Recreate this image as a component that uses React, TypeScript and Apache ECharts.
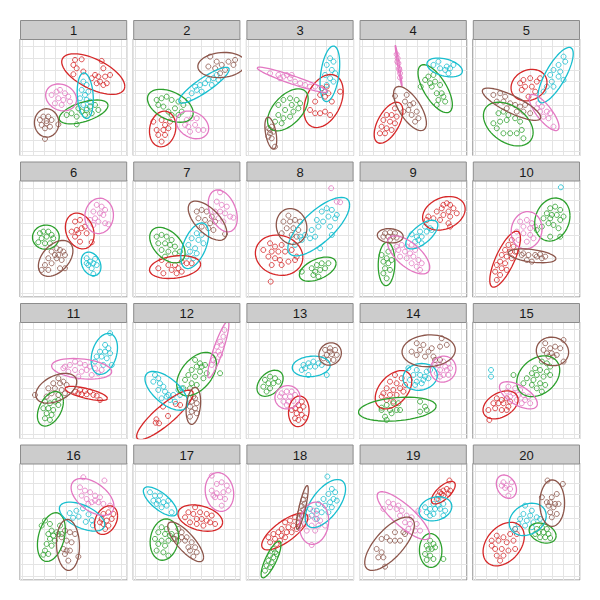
import React, { useEffect, useRef } from "react";
import * as echarts from "echarts";

const panelLabels = ["1","2","3","4","5","6","7","8","9","10","11","12","13","14","15","16","17","18","19","20"];
const groupColors = ["#d62728", "#2ca02c", "#17becf", "#e377c2", "#8c564b"];

const red: number[][][] = [
  [[3.78,7.86],[4.38,7.91],[3.63,7.43],[3.93,7.14],[3.63,6.63],[4.53,6.86],[6.19,7.77],[6.34,7.14],[5.59,6.57],[5.89,6.43],[6.5,6.43],[6.95,6.57],[6.04,6.0],[6.34,5.71],[5.74,5.86],[6.65,5.86],[5.29,6.29]],
  [[0.62,2.57],[1.37,2.71],[1.68,2.29],[0.92,1.86],[1.53,1.86],[1.98,2.0],[1.07,1.43],[1.68,1.43],[1.37,0.86],[2.13,2.57]],
  [[5.62,5.43],[6.07,5.57],[6.22,5.0],[5.47,4.86],[5.92,4.71],[7.28,5.14],[5.02,4.29],[6.53,4.29],[4.56,3.57],[5.02,3.29],[5.47,3.29],[5.92,3.43],[6.37,3.14]],
  [[2.0,3.71],[1.25,3.14],[1.7,3.14],[2.15,3.0],[0.95,2.71],[1.55,2.57],[2.0,2.43],[0.79,2.14],[1.25,2.0],[1.7,1.86],[0.64,1.57],[1.1,1.57]],
  [[3.08,5.86],[3.38,6.14],[3.99,6.29],[4.59,6.0],[4.89,6.29],[3.53,5.57],[4.14,5.57],[3.23,5.29],[3.84,4.71],[4.44,5.14]],
  [[3.78,6.13],[4.23,6.27],[3.93,5.41],[4.38,5.56],[4.68,5.7],[3.47,5.27],[4.08,5.13],[4.83,5.13],[4.23,4.41],[5.29,4.36],[3.78,4.84]],
  [[1.07,2.13],[1.37,2.84],[1.98,2.41],[2.58,2.41],[3.19,2.7],[3.64,2.56],[4.09,2.56],[2.89,2.13],[2.28,1.99],[2.73,1.7],[3.19,1.84],[1.53,1.7]],
  [[0.94,4.27],[1.39,3.99],[1.99,4.13],[0.33,3.7],[1.09,3.56],[1.69,3.56],[2.3,3.56],[2.9,3.7],[0.79,3.13],[1.39,2.99],[1.84,2.84],[2.6,2.7],[3.2,2.84],[1.09,2.41],[1.99,2.41],[3.35,3.13],[1.0,0.99]],
  [[6.38,7.56],[6.69,7.7],[6.99,7.56],[7.29,7.27],[6.23,7.27],[6.84,6.99],[7.59,6.84],[5.78,6.99],[6.38,6.7],[6.99,6.56],[5.02,6.56],[5.48,6.41],[6.08,6.27],[4.87,6.27],[6.84,5.99],[6.99,5.7]],
  [[2.33,4.56],[2.02,4.13],[2.48,3.99],[1.72,3.7],[2.18,3.56],[1.42,3.27],[1.87,3.13],[2.33,2.99],[1.27,2.7],[1.72,2.56],[0.97,2.41],[1.42,2.13],[1.87,1.99],[0.82,1.84],[1.27,1.56],[0.97,1.13],[2.63,3.56]],
  [[3.78,3.69],[4.23,3.83],[4.68,3.74],[5.14,3.69],[4.38,3.46],[4.83,3.46],[5.44,3.4],[5.74,3.34],[6.04,2.97],[4.08,3.54]],
  [[1.5,2.4],[2.65,2.63],[3.05,2.54],[1.95,1.6],[0.9,1.31],[0.84,1.02],[1.14,0.97]],
  [[3.81,2.83],[3.5,2.54],[3.96,2.4],[3.2,2.26],[3.66,2.11],[2.9,2.11],[3.35,1.83],[3.81,1.69],[3.2,1.4],[4.11,1.46],[3.5,1.26]],
  [[2.0,5.11],[2.61,4.83],[1.55,4.54],[2.15,4.4],[2.91,4.26],[1.25,3.97],[1.85,3.83],[2.46,3.97],[2.76,3.69],[0.95,3.54],[1.55,3.4],[2.15,3.4],[1.25,2.97],[1.85,2.83],[0.8,3.26]],
  [[0.97,3.11],[1.42,2.97],[1.87,3.11],[2.18,2.83],[0.66,2.69],[1.12,2.69],[1.57,2.69],[2.02,2.4],[0.82,2.26],[1.42,2.11],[1.87,2.11],[0.21,2.11],[0.3,1.26]],
  [[6.34,5.33],[6.8,5.47],[7.25,5.33],[6.19,4.9],[6.65,4.76],[7.1,4.9],[6.34,4.47],[6.8,4.33],[6.5,4.04],[6.04,4.61]],
  [[4.4,5.9],[3.79,5.47],[4.24,5.33],[4.85,5.47],[5.45,5.33],[5.91,5.19],[4.55,4.9],[5.0,4.9],[5.45,4.76],[6.21,4.47],[3.94,4.61],[4.55,4.47],[5.15,4.33],[3.49,5.04],[5.76,4.61]],
  [[3.2,5.04],[2.75,4.76],[2.3,4.61],[3.5,4.61],[3.05,4.33],[2.6,4.19],[1.99,4.04],[3.35,4.04],[1.69,3.76],[2.45,3.76],[2.9,3.76],[1.24,3.61],[1.99,3.47],[0.79,3.33],[1.39,3.19],[1.84,3.04],[0.94,2.9],[1.54,2.76],[2.3,3.33],[3.66,4.33]],
  [[6.93,8.19],[6.08,7.19],[6.38,7.33],[6.69,7.47],[6.99,7.33],[5.93,6.9],[6.38,6.9],[6.84,7.04],[5.78,6.61],[6.23,7.04]],
  [[2.63,4.04],[2.18,3.61],[0.97,3.47],[1.57,3.33],[0.51,3.04],[1.12,3.04],[1.87,2.9],[2.48,3.04],[0.82,2.33],[1.42,2.33],[2.02,2.19],[2.63,2.33],[0.97,1.76],[1.57,1.76],[1.27,1.33],[0.51,2.61],[2.78,3.61]]
];

const green: number[][][] = [
  [[3.02,3.14],[3.47,3.29],[3.93,3.0],[4.38,3.43],[4.83,3.57],[5.14,3.86],[5.59,4.0],[5.29,3.29],[4.68,3.14],[4.08,3.71],[3.93,2.34],[5.89,3.57]],
  [[0.92,4.43],[1.37,4.57],[1.83,4.71],[2.28,4.43],[2.89,4.29],[3.34,4.0],[2.58,3.71],[1.98,3.43],[1.53,3.86],[2.28,3.14],[2.89,3.14],[3.19,3.43],[1.07,4.0]],
  [[1.69,4.0],[2.15,4.43],[2.75,4.57],[3.35,4.43],[3.66,4.14],[2.9,4.0],[2.3,3.57],[3.05,3.43],[3.5,3.71],[1.69,3.14],[2.15,2.86],[2.75,3.0],[1.39,2.57],[1.99,2.43]],
  [[5.02,6.43],[5.48,6.57],[5.18,5.86],[5.63,6.0],[6.08,5.71],[5.33,5.57],[6.23,5.0],[5.78,5.0],[6.38,4.71],[5.93,4.43],[6.54,4.29],[5.78,4.0],[4.33,5.57],[4.73,6.14]],
  [[1.12,3.29],[1.57,3.43],[2.02,3.14],[2.63,2.86],[3.08,2.57],[0.66,2.43],[1.27,2.57],[1.87,2.71],[0.97,2.0],[1.57,1.57],[2.18,1.57],[2.78,1.57],[3.23,1.86],[3.38,1.14]],
  [[0.6,5.13],[0.91,5.27],[1.36,5.27],[1.66,4.99],[0.76,4.7],[1.21,4.84],[1.81,4.7],[0.45,4.36],[1.06,4.27],[1.51,4.27]],
  [[0.92,4.84],[1.37,4.99],[1.83,4.84],[2.28,4.56],[1.07,4.27],[1.68,4.27],[2.13,4.13],[2.58,3.99],[1.37,3.7],[1.98,3.56],[2.58,3.41],[3.04,3.56],[1.68,3.13]],
  [[4.71,2.13],[5.17,2.41],[5.62,2.56],[6.22,2.56],[5.02,1.84],[5.47,1.99],[5.92,2.13],[5.32,1.41],[3.81,1.84],[4.86,1.56]],
  [[1.4,3.56],[1.25,2.99],[1.7,2.84],[0.95,2.7],[1.4,2.56],[1.1,2.13],[1.55,1.99],[0.95,1.7],[1.25,1.27],[0.79,3.27]],
  [[5.8,7.27],[6.25,7.41],[6.71,7.13],[5.5,6.84],[5.95,6.7],[6.4,6.7],[7.01,6.56],[5.2,6.41],[5.8,6.41],[6.71,6.27],[5.65,5.99],[6.1,5.84],[6.56,5.56],[5.8,4.84],[6.71,4.84],[5.05,5.7],[4.59,5.41]],
  [[1.06,2.83],[1.51,2.69],[1.96,2.83],[2.27,2.97],[0.91,2.26],[1.36,2.26],[1.81,2.11],[1.21,1.83],[1.66,1.69],[1.06,1.4],[1.51,1.26],[2.27,2.54]],
  [[4.4,6.4],[4.85,6.11],[5.3,5.97],[5.0,5.83],[4.55,5.83],[4.09,5.54],[4.85,5.4],[5.45,5.26],[3.79,5.11],[4.4,4.97],[5.15,4.83],[6.66,5.26],[3.49,4.69],[4.09,4.4],[4.55,4.26],[3.34,3.97],[3.94,3.97]],
  [[0.48,4.69],[0.94,4.97],[1.39,4.83],[0.79,4.4],[1.24,4.4],[0.33,4.11],[0.94,3.97],[1.69,4.54],[0.63,3.69]],
  [[0.79,2.31],[1.25,2.54],[1.85,2.69],[2.31,2.69],[1.55,2.11],[2.15,2.11],[1.1,1.54],[0.79,2.11],[2.46,2.11],[4.27,2.83],[4.72,2.4],[4.27,1.97],[4.87,2.11],[1.25,1.26],[1.7,1.83]],
  [[5.05,6.26],[5.5,6.11],[5.8,5.83],[4.44,5.69],[4.89,5.54],[5.5,5.4],[4.14,5.26],[4.59,5.11],[5.2,4.97],[5.8,5.11],[3.69,4.83],[4.29,4.69],[4.89,4.4],[5.35,4.26],[4.14,4.26],[4.59,3.97],[5.05,3.69],[2.48,5.11],[3.38,4.4]],
  [[1.06,4.76],[1.51,4.47],[2.42,4.33],[1.66,3.9],[2.11,3.76],[1.36,3.61],[1.81,3.47],[2.27,3.61],[1.51,3.19],[1.96,3.04],[1.21,2.76],[1.66,2.61],[1.06,2.19],[1.36,1.9],[0.91,1.84],[0.76,4.33],[2.57,3.61]],
  [[1.37,4.19],[1.83,4.04],[1.07,3.76],[1.68,3.61],[2.13,3.47],[0.77,3.19],[1.37,3.04],[1.98,3.04],[2.43,3.19],[1.07,2.76],[1.68,2.61],[0.92,2.19],[1.53,2.04],[1.98,1.76],[2.28,3.61]],
  [[1.24,2.33],[1.39,2.04],[0.94,1.76],[1.24,1.61],[0.79,1.33],[1.09,1.19],[0.63,0.9],[0.94,0.76],[0.48,0.47],[1.54,1.9]],
  [[5.18,3.04],[5.48,2.76],[4.87,2.61],[5.33,2.33],[5.63,2.47],[4.72,1.9],[5.18,1.76],[4.87,1.39],[5.48,1.47],[6.38,1.47],[5.03,2.33]],
  [[4.59,4.04],[5.05,4.19],[5.5,4.04],[4.74,3.76],[5.2,3.76],[5.65,3.61],[4.89,3.33],[5.35,3.33],[4.44,3.61],[5.8,3.27]]
];

const cyan: number[][][] = [
  [[4.53,6.0],[4.83,5.71],[4.38,5.29],[4.98,5.14],[4.68,4.86],[4.23,4.57],[4.83,4.43],[5.14,4.29],[4.53,4.0],[4.83,3.71]],
  [[3.79,4.43],[4.09,5.0],[4.55,5.29],[4.85,5.71],[5.3,5.86],[5.6,6.14],[6.06,6.29],[6.36,6.57],[5.0,5.14],[4.4,5.57],[5.91,5.71],[6.51,6.14]],
  [[6.37,8.0],[6.68,7.71],[6.07,7.43],[6.53,7.0],[6.83,6.71],[5.92,6.57],[6.37,6.29],[6.07,5.71],[6.68,6.0],[5.92,5.14]],
  [[5.93,7.71],[5.48,7.43],[6.69,7.29],[6.99,7.14],[6.54,7.0],[6.84,6.71],[6.08,7.14],[7.29,7.43]],
  [[7.01,8.14],[7.16,7.71],[6.56,7.43],[6.1,7.0],[6.71,6.86],[5.8,6.57],[6.56,6.43],[7.01,6.14],[5.95,6.0],[5.5,5.57],[6.1,5.57],[5.2,5.14]],
  [[4.83,2.99],[5.59,2.93],[5.14,2.7],[5.44,2.56],[4.98,2.41],[5.74,2.41],[5.29,2.13],[5.44,1.64],[4.83,2.56]],
  [[4.55,5.13],[5.0,4.99],[4.09,4.7],[4.7,4.56],[5.15,4.27],[3.79,4.13],[4.4,3.84],[3.94,3.56],[4.55,3.41],[3.64,3.13],[4.24,2.99]],
  [[6.07,7.27],[6.53,7.13],[6.98,6.7],[5.62,6.99],[6.22,6.56],[6.83,6.41],[5.17,6.27],[5.74,6.13],[5.32,5.7],[6.37,5.7],[4.71,5.41],[4.11,4.99],[3.66,4.84],[4.56,4.7],[3.81,4.56],[6.53,4.99],[5.47,3.84],[5.02,4.84],[3.2,4.13]],
  [[4.72,5.7],[5.18,5.56],[4.27,5.27],[4.87,5.27],[5.33,5.41],[3.97,4.84],[4.42,4.84],[3.51,5.04],[3.82,4.41],[4.42,4.27],[4.12,4.56]],
  [[6.77,9.07]],
  [[6.95,8.69],[6.5,7.69],[6.8,7.4],[6.04,7.11],[6.5,7.11],[6.95,6.97],[5.74,6.69],[6.19,6.69],[6.65,6.54],[5.59,6.26],[6.34,5.97],[7.1,5.97]],
  [[0.77,5.11],[1.07,4.83],[0.62,4.54],[1.22,4.4],[1.53,4.11],[1.07,3.83],[1.68,3.69],[1.98,3.4],[2.43,3.4],[2.89,3.83],[3.19,3.97],[1.37,3.11],[2.13,2.97],[2.58,2.83],[1.83,3.26],[3.04,3.4]],
  [[3.96,5.97],[4.41,6.11],[4.86,6.26],[5.32,6.11],[5.62,5.97],[4.11,5.69],[4.56,5.83],[5.02,5.83],[4.41,5.11],[6.07,5.11],[3.81,5.54]],
  [[3.21,5.69],[3.97,5.54],[4.87,5.4],[5.18,5.54],[3.67,5.11],[4.27,5.11],[4.72,4.97],[3.36,4.69],[3.97,4.54],[4.57,4.69],[5.03,4.83],[3.82,4.26],[4.42,4.4]],
  [[0.45,5.54],[0.45,4.97]],
  [[3.3,5.4],[3.9,5.6],[4.5,5.8],[4.1,5.1],[4.75,4.65],[5.3,4.8],[5.0,5.3],[3.6,5.0],[5.4,4.35]],
  [[0.32,7.19],[0.77,6.9],[1.22,6.9],[0.62,6.47],[1.07,6.47],[1.53,6.33],[1.83,6.04],[1.37,5.9],[2.28,5.47],[1.98,6.47],[0.92,6.19]],
  [[6.13,8.53],[6.53,7.47],[6.83,7.19],[6.22,7.04],[6.68,6.61],[5.77,6.61],[6.37,6.33],[6.98,6.47],[5.32,6.19],[5.92,6.04],[6.53,5.9],[5.17,5.61],[5.62,5.47],[6.22,5.47],[4.71,5.19],[5.17,4.9],[4.56,5.76]],
  [[5.93,6.61],[6.38,6.19],[5.48,6.19],[5.93,6.04],[5.18,5.76],[5.63,5.76],[6.08,5.76],[4.87,5.47],[5.48,5.33],[6.38,5.19],[5.18,5.19],[6.54,5.61],[4.72,5.9]],
  [[3.53,6.04],[4.14,5.61],[3.38,5.33],[3.99,5.19],[4.59,5.04],[3.08,4.9],[3.69,4.76],[4.29,4.61],[4.89,4.9],[2.93,4.47],[3.53,4.33],[4.14,4.19],[2.63,4.04]]
];

const pink: number[][][] = [
  [[1.66,4.86],[2.11,5.14],[2.42,5.29],[2.87,5.0],[2.27,4.57],[2.72,4.43],[3.17,4.71],[2.57,4.0],[1.96,4.14],[3.32,4.29]],
  [[3.64,2.71],[4.09,2.86],[4.55,2.86],[3.79,2.14],[4.4,2.29],[3.94,1.71],[5.15,1.86],[4.7,1.86],[3.49,2.29]],
  [[0.94,6.71],[1.69,6.57],[2.15,6.43],[2.45,6.57],[2.75,6.29],[3.2,6.0],[3.66,5.86],[4.11,5.71],[4.56,5.57],[5.02,5.57],[2.9,6.57],[1.84,6.29]],
  [[2.15,8.34],[2.24,8.0],[2.31,7.57],[2.37,7.14],[2.46,6.71],[2.46,6.34],[2.21,7.71],[2.4,7.0]],
  [[4.74,4.14],[4.59,3.71],[5.05,3.86],[5.5,3.43],[5.8,3.29],[5.2,3.0],[5.65,2.86],[6.1,2.14],[4.89,3.43]],
  [[5.74,7.56],[6.19,7.41],[6.5,7.13],[5.44,6.99],[6.04,6.84],[6.34,6.7],[5.59,6.41],[5.89,6.13],[6.5,5.99],[6.8,5.9],[5.14,6.27],[5.44,5.84]],
  [[6.66,8.64],[6.36,7.84],[6.81,7.56],[7.27,7.41],[6.21,6.99],[6.66,6.99],[7.11,6.84],[7.57,6.56],[7.87,6.47],[6.51,6.41],[6.96,6.13]],
  [[6.47,8.99],[6.98,7.84],[7.28,7.79]],
  [[2.15,3.99],[2.61,4.13],[3.06,3.99],[3.51,4.13],[2.31,3.7],[2.91,3.56],[3.36,3.41],[3.82,3.7],[2.46,3.13],[3.06,2.99],[3.67,3.13],[4.12,2.84],[4.42,2.56],[3.97,2.27],[4.27,1.99],[3.51,2.56],[1.85,3.56]],
  [[3.08,6.13],[3.69,6.27],[4.14,5.99],[3.38,5.7],[3.99,5.56],[4.44,5.7],[2.78,5.27],[3.38,5.13],[3.99,4.99],[2.93,4.56],[3.69,4.41],[4.29,4.7]],
  [[2.87,5.83],[3.32,5.97],[3.78,6.26],[4.23,6.11],[4.68,5.97],[5.14,5.83],[5.59,5.69],[3.17,5.4],[3.78,5.54],[4.38,5.4],[4.83,5.54],[4.08,4.97],[5.29,5.11],[5.89,5.26],[6.19,5.54],[2.72,5.69]],
  [[7.05,8.97],[6.96,8.4],[6.66,7.97],[6.81,7.69],[6.36,7.54],[6.51,7.11],[6.21,6.83],[6.66,6.83],[6.06,6.4],[6.36,6.26],[5.91,5.97]],
  [[1.99,3.54],[2.45,3.69],[2.9,3.69],[1.84,3.26],[2.3,3.26],[2.75,3.26],[3.2,3.4],[2.15,2.83],[2.6,2.83],[3.05,2.89],[2.45,2.54]],
  [[6.38,6.26],[6.84,6.11],[5.93,5.97],[6.54,5.83],[6.08,5.54],[6.69,5.54],[6.99,5.69],[5.78,5.26],[6.38,5.11],[6.84,5.11],[6.08,4.97],[5.63,5.97]],
  [[2.02,4.11],[2.63,3.97],[3.08,3.83],[2.48,3.54],[2.93,3.4],[3.38,3.4],[3.84,3.26],[2.18,3.26],[2.78,2.97],[3.53,2.97],[3.99,2.69],[3.23,2.69],[1.87,3.69]],
  [[4.53,8.47],[6.44,8.19],[4.23,7.61],[4.68,7.33],[5.14,7.19],[5.59,6.9],[6.04,6.76],[4.38,6.9],[4.83,6.61],[5.29,6.33],[5.89,6.33],[6.34,6.19],[6.95,6.04],[4.98,6.19],[5.59,6.47]],
  [[5.91,8.61],[6.36,7.9],[6.81,8.04],[7.27,7.76],[5.91,7.33],[6.36,7.1],[6.96,7.19],[7.42,7.33],[6.21,6.76],[6.66,6.76],[7.11,6.61],[6.81,6.04],[6.06,6.9]],
  [[4.86,5.61],[5.17,5.33],[4.41,5.04],[5.02,4.9],[5.47,4.76],[4.11,4.47],[4.71,4.33],[5.32,4.33],[5.92,4.33],[4.26,3.9],[4.71,2.67],[5.02,3.9]],
  [[1.4,6.33],[1.85,6.19],[2.31,6.04],[1.55,5.9],[2.15,5.76],[2.61,5.61],[0.95,5.76],[2.46,5.19],[3.06,5.19],[3.51,5.04],[2.91,4.61],[3.36,4.47],[3.97,4.47],[3.21,4.04],[3.82,3.9],[4.27,3.9],[4.12,5.61]],
  [[1.42,7.76],[1.87,7.76],[2.33,8.04],[1.72,7.56],[2.18,7.47],[2.02,6.9],[1.57,8.04]]
];

const brown: number[][][] = [
  [[0.6,2.71],[0.91,3.0],[1.36,3.0],[1.66,2.71],[0.76,2.29],[1.21,2.43],[1.51,2.14],[1.06,2.0],[2.27,2.34],[1.06,1.09],[1.21,2.63]],
  [[5.76,8.14],[6.36,7.71],[6.81,7.43],[7.42,7.71],[7.87,7.43],[6.21,7.14],[7.11,7.0],[5.6,7.29],[8.02,7.86],[6.66,6.71]],
  [[0.79,2.0],[1.09,2.14],[0.94,1.57],[1.24,1.71],[0.79,1.29],[1.09,1.14],[1.39,0.43],[0.94,1.86]],
  [[3.06,4.86],[2.91,4.29],[3.36,4.0],[3.66,4.14],[3.21,3.57],[3.97,3.43],[3.51,3.14],[4.12,2.86],[3.82,2.57],[2.76,3.43],[2.0,4.77]],
  [[0.66,4.86],[1.27,5.0],[1.72,4.71],[0.97,4.29],[1.57,4.29],[2.18,4.14],[2.63,4.0],[3.08,3.86],[3.53,4.0],[1.87,3.71],[2.78,3.43],[3.38,3.43],[3.99,3.29]],
  [[1.66,3.56],[2.11,3.84],[2.42,3.7],[2.72,3.56],[1.96,3.27],[2.27,3.27],[2.87,3.27],[1.36,2.99],[2.11,2.99],[2.57,2.84],[1.66,2.56],[1.06,2.41],[0.76,1.99],[1.36,1.99],[2.42,2.13],[2.87,2.13]],
  [[4.55,6.99],[5.0,7.13],[5.45,6.99],[5.91,6.56],[4.7,6.41],[5.3,6.27],[5.76,5.99],[6.21,6.13],[5.0,5.7],[5.6,5.56],[6.06,5.41],[7.11,5.07]],
  [[2.6,6.64],[2.15,6.13],[2.75,6.13],[3.2,6.27],[3.66,6.13],[2.45,5.56],[3.05,5.56],[3.5,5.41],[1.99,5.13],[2.9,4.99],[3.35,4.84]],
  [[1.1,5.13],[1.55,5.21],[2.0,5.13],[0.95,4.84],[1.4,4.84],[1.85,4.84],[2.15,4.76],[1.55,4.56]],
  [[2.78,3.56],[3.38,3.41],[3.84,3.27],[4.44,3.27],[4.89,3.33],[5.35,3.13],[3.69,2.84],[4.59,3.13],[5.05,2.99],[3.23,3.27],[4.14,2.7]],
  [[2.27,4.83],[2.72,4.54],[1.81,4.4],[2.42,4.4],[3.02,4.26],[1.36,3.97],[1.96,3.97],[2.57,3.83],[1.66,3.54],[2.27,3.4],[2.87,3.54],[0.15,3.4],[1.21,3.26]],
  [[4.4,3.11],[4.09,2.83],[4.55,2.69],[3.94,2.4],[4.4,2.26],[4.09,1.97],[4.55,1.83],[3.94,1.54],[4.24,3.26]],
  [[5.92,7.26],[6.37,7.4],[6.83,7.26],[6.07,6.83],[6.53,6.89],[6.98,6.83],[5.77,6.54],[6.22,6.4],[6.68,6.4],[6.37,7.11]],
  [[6.23,8.26],[3.97,7.83],[4.57,7.69],[5.33,7.4],[6.08,7.54],[6.69,7.69],[4.27,7.26],[5.03,7.11],[3.97,6.83],[4.72,6.69],[5.48,6.69],[6.08,6.4],[3.51,7.11],[5.63,6.4]],
  [[5.35,7.83],[7.01,8.11],[5.8,7.4],[6.25,7.54],[6.71,7.4],[5.5,6.97],[5.95,6.97],[6.4,6.83],[5.65,6.69],[6.1,6.69],[7.01,6.26],[5.2,7.26]],
  [[2.87,3.9],[3.32,3.76],[3.78,3.61],[3.02,3.04],[3.47,2.9],[2.72,2.33],[3.02,2.19],[3.32,2.19],[2.87,1.9],[4.08,1.67],[3.17,1.33],[2.57,3.33]],
  [[2.89,4.04],[3.19,3.76],[2.73,3.47],[3.19,3.33],[3.64,3.33],[2.89,3.04],[3.49,3.04],[4.09,2.9],[3.79,2.47],[4.4,2.47],[3.94,2.19],[4.55,2.04],[4.24,1.67],[2.58,3.19]],
  [[4.1,6.9],[3.95,6.55],[4.05,6.2],[3.8,6.0],[3.95,5.7],[3.65,5.45],[3.8,5.15],[3.55,4.95]],
  [[2.91,3.61],[2.0,3.76],[1.25,3.33],[1.55,3.04],[2.0,3.04],[2.46,3.04],[0.79,3.19],[0.34,2.33],[0.79,2.04],[0.49,1.61],[0.95,1.61],[1.1,0.81],[2.76,3.76]],
  [[5.56,8.19],[6.95,7.9],[6.4,7.04],[5.95,6.76],[5.05,6.76],[5.8,6.33],[6.25,6.19],[6.56,6.19],[5.65,6.04],[6.1,5.9],[5.8,5.47],[6.4,5.33],[5.95,5.04],[5.5,6.33]]
];

const groups = [red, green, cyan, pink, brown];

// ggplot2 stat_ellipse (type "t", level 0.95) using a robust t covariance like MASS::cov.trob
function covTrob(pts: number[][]) {
  const n = pts.length;
  const nu = 5;
  const p = 2;
  let loc = [0, 0];
  pts.forEach((q) => { loc[0] += q[0] / n; loc[1] += q[1] / n; });
  let w = pts.map(() => 1);
  let X = pts.map((q) => [q[0] - loc[0], q[1] - loc[1]]);
  for (let iter = 0; iter < 25; iter++) {
    const w0 = w.slice();
    X = pts.map((q) => [q[0] - loc[0], q[1] - loc[1]]);
    const sw = w.reduce((s, v) => s + v, 0);
    let a = 0, b = 0, c = 0;
    X.forEach((v, i) => { a += w[i] * v[0] * v[0]; b += w[i] * v[0] * v[1]; c += w[i] * v[1] * v[1]; });
    a /= sw; b /= sw; c /= sw;
    const det = a * c - b * b;
    if (!(det > 1e-12)) break;
    w = X.map((v) => (nu + p) / (nu + (c * v[0] * v[0] - 2 * b * v[0] * v[1] + a * v[1] * v[1]) / det));
    const sw2 = w.reduce((s, v) => s + v, 0);
    loc = [0, 0];
    pts.forEach((q, i) => { loc[0] += (w[i] * q[0]) / sw2; loc[1] += (w[i] * q[1]) / sw2; });
    let done = true;
    for (let i = 0; i < n; i++) if (Math.abs(w[i] - w0[i]) >= 0.01) done = false;
    if (done) break;
  }
  let a = 0, b = 0, c = 0;
  X.forEach((v, i) => { a += w[i] * v[0] * v[0]; b += w[i] * v[0] * v[1]; c += w[i] * v[1] * v[1]; });
  return { center: loc, cov: [a / n, b / n, c / n] };
}

function ellipsePath(pts: number[][]) {
  const { center, cov } = covTrob(pts);
  const [a, b, c] = cov;
  const r11 = Math.sqrt(a);
  const r12 = b / r11;
  const r22 = Math.sqrt(Math.max(c - r12 * r12, 1e-9));
  const dfd = pts.length - 1;
  const fq = (dfd / 2) * (Math.pow(0.05, -2 / dfd) - 1);
  const radius = Math.sqrt(2 * fq);
  const out: number[][] = [];
  const segs = 51;
  for (let k = 0; k <= segs; k++) {
    const t = (k * 2 * Math.PI) / segs;
    const u = Math.cos(t), v = Math.sin(t);
    out.push([center[0] + radius * u * r11, center[1] + radius * (u * r12 + v * r22)]);
  }
  return out;
}

export default function App() {
  const ref = useRef<HTMLDivElement>(null);
  useEffect(() => {
    if (!ref.current) return;
    const chart = echarts.init(ref.current, null, { renderer: "svg" });
    const grids: any[] = [];
    const xAxes: any[] = [];
    const yAxes: any[] = [];
    const series: any[] = [];
    const graphics: any[] = [];
    const pw = 107.2;
    const stripH = 19;
    const plotH = 116.5;
    for (let i = 0; i < 20; i++) {
      const col = i % 5;
      const row = Math.floor(i / 5);
      const left = 20 + col * 113.2;
      const top = 20 + row * 141.5;
      grids.push({
        left, top: top + stripH, width: pw, height: plotH,
        show: true, borderColor: "#8c8c8c", borderWidth: 1, backgroundColor: "#ffffff", containLabel: false,
      });
      const axisCommon = {
        type: "value", gridIndex: i,
        axisLabel: { show: false }, axisTick: { show: false }, axisLine: { show: false },
        splitLine: { show: true, lineStyle: { color: "#e4e4e4", width: 1 } },
      };
      xAxes.push({ ...axisCommon, min: -1.2, max: 8.5, splitNumber: 9 });
      yAxes.push({ ...axisCommon, min: -0.33, max: 9.65, splitNumber: 10 });
      graphics.push({
        type: "rect", silent: true, z: 10,
        shape: { x: left + 0.5, y: top + 0.5, width: pw - 1, height: stripH },
        style: { fill: "#cccccc", stroke: "#8c8c8c", lineWidth: 1 },
      });
      graphics.push({
        type: "text", silent: true, z: 11,
        x: left + pw / 2, y: top + stripH / 2 + 1,
        style: {
          text: panelLabels[i], textAlign: "center", textVerticalAlign: "middle",
          fontSize: 13, fontFamily: "Liberation Sans, Arial, sans-serif", fill: "#1a1a1a",
        },
      });
      groups.forEach((g, k) => {
        const pts = g[i];
        const color = groupColors[k];
        series.push({
          type: "scatter", xAxisIndex: i, yAxisIndex: i, data: pts, silent: true,
          symbol: "circle", symbolSize: 5,
          itemStyle: { color: "rgba(0,0,0,0)", borderColor: color, borderWidth: 1 },
        });
        if (pts.length >= 4) {
          series.push({
            type: "line", xAxisIndex: i, yAxisIndex: i, data: ellipsePath(pts), silent: true,
            showSymbol: false, symbol: "none", clip: true,
            lineStyle: { color, width: 1.3 },
          });
        }
      });
    }
    chart.setOption({
      animation: false,
      backgroundColor: "#ffffff",
      grid: grids, xAxis: xAxes, yAxis: yAxes, series, graphic: graphics,
    });
    return () => chart.dispose();
  }, []);
  return <div ref={ref} style={{ position: "absolute", left: 0, top: 0, width: 600, height: 600 }} />;
}
